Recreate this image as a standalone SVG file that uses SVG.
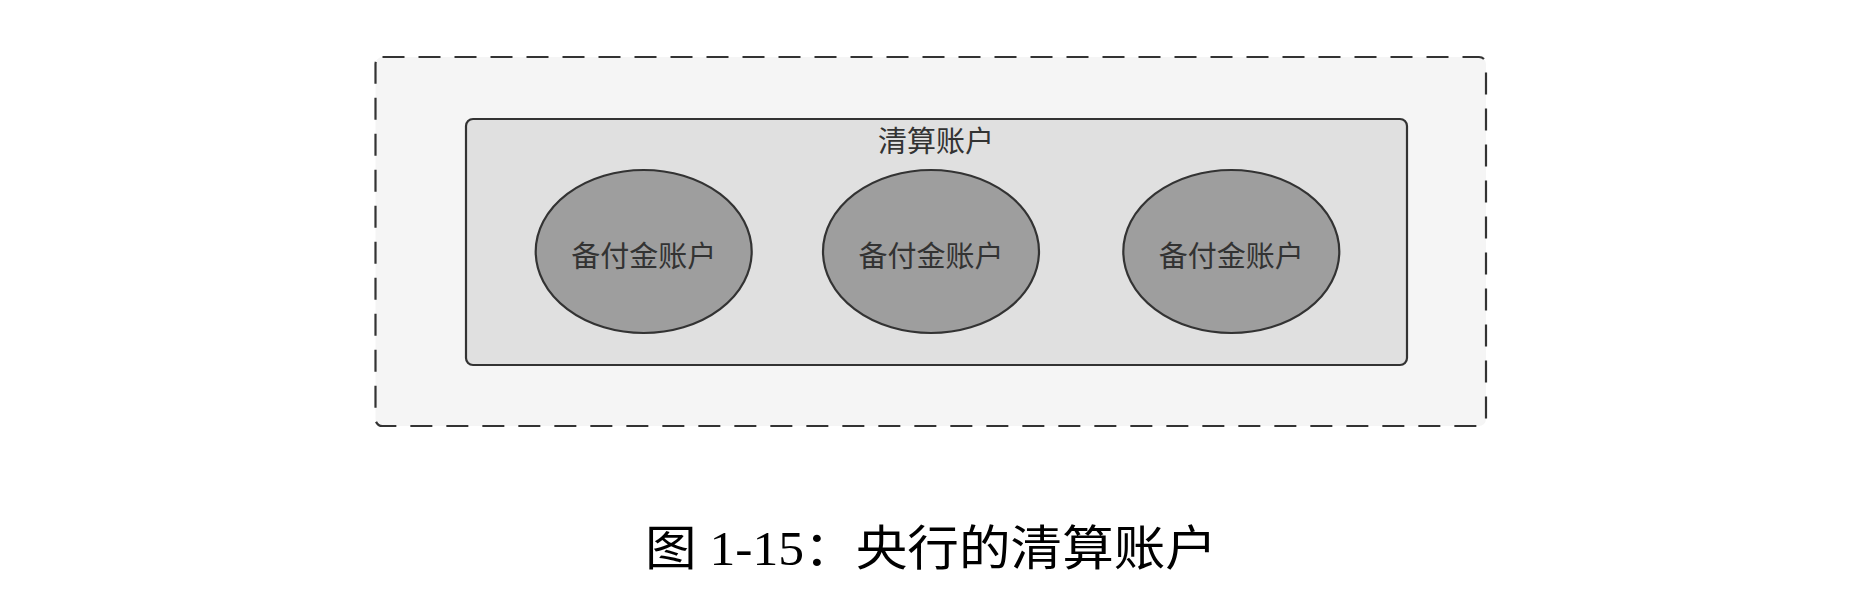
<svg xmlns="http://www.w3.org/2000/svg" width="1868" height="612" viewBox="0 0 1868 612">
<style>
.lbl{font-family:"Noto Sans CJK SC","Noto Sans",sans-serif;font-size:29px;fill:#333333;text-anchor:middle;dominant-baseline:central}
.acct{fill:#9e9e9e;stroke:#333333;stroke-width:2.2}
.cap{font-family:"Liberation Serif","Noto Sans CJK SC",serif;font-size:48px;fill:#000000;text-anchor:middle;dominant-baseline:central}
</style>
<rect width="1868" height="612" fill="#ffffff"/>
<g id="outer">
<rect x="375.5" y="57" width="1110.5" height="369" rx="7" fill="#f5f5f5" stroke="#333333" stroke-width="2.2" stroke-dasharray="22 14"/>
</g>
<g id="clearing">
<rect x="466" y="119" width="941" height="246" rx="7" fill="#e0e0e0" stroke="#333333" stroke-width="2.2"/>
<text class="lbl" x="936" y="139">清算账户</text>
</g>
<g id="reserve1">
<ellipse class="acct" cx="643.7" cy="251.5" rx="108" ry="81.5"/>
<text class="lbl" x="643.7" y="254">备付金账户</text>
</g>
<g id="reserve2">
<ellipse class="acct" cx="931" cy="251.5" rx="108" ry="81.5"/>
<text class="lbl" x="931" y="254">备付金账户</text>
</g>
<g id="reserve3">
<ellipse class="acct" cx="1231.3" cy="251.5" rx="108" ry="81.5"/>
<text class="lbl" x="1231.3" y="254">备付金账户</text>
</g>
<g id="connectors"></g>
<text class="cap" x="931" y="548" textLength="572" lengthAdjust="spacingAndGlyphs">图 1-15：央行的清算账户</text>
</svg>
